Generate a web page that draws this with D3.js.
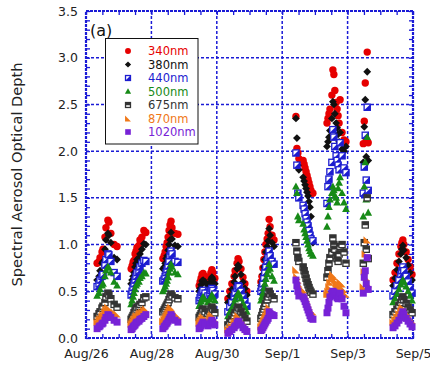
<!DOCTYPE html>
<html>
<head>
<meta charset="utf-8">
<script src="https://cdn.jsdelivr.net/npm/d3@7"></script>
<style>
  html, body { margin: 0; padding: 0; background: #fff; }
  svg { display: block; font-family: "DejaVu Sans", Verdana, sans-serif; }
</style>
</head>
<body>
<div id="chart"></div>
<script>
// x axis: days since Aug/26 00:00
const tickDays = [0, 2, 4, 6, 8, 10];
const tickLabels = ["Aug/26", "Aug/28", "Aug/30", "Sep/1", "Sep/3", "Sep/5"];
const yTicks = [0, 0.5, 1.0, 1.5, 2.0, 2.5, 3.0, 3.5];

// fraction of the day for each measurement, one row per day (Aug 26 .. Sep 4)
const times = [
  [0.34, 0.40, 0.43, 0.49, 0.52, 0.58, 0.61, 0.67, 0.70, 0.76, 0.86, 0.95],
  [0.38, 0.41, 0.44, 0.47, 0.50, 0.53, 0.56, 0.62, 0.65, 0.71, 0.77, 0.83],
  [0.35, 0.39, 0.42, 0.45, 0.48, 0.51, 0.54, 0.57, 0.60, 0.63, 0.72, 0.81],
  [0.46, 0.49, 0.52, 0.55, 0.58, 0.64, 0.73, 0.79, 0.82, 0.85, 0.88, 0.94],
  [0.34, 0.40, 0.46, 0.53, 0.56, 0.62, 0.65, 0.68, 0.74, 0.80, 0.86, 0.92],
  [0.35, 0.38, 0.41, 0.44, 0.47, 0.50, 0.54, 0.57, 0.60, 0.63, 0.69, 0.75],
  [0.42, 0.45, 0.48, 0.51, 0.64, 0.67, 0.70, 0.73, 0.76, 0.79, 0.82, 0.85, 0.88, 0.94],
  [0.37, 0.40, 0.43, 0.46, 0.52, 0.55, 0.58, 0.61, 0.65, 0.68, 0.71, 0.74, 0.77, 0.83, 0.89, 0.95],
  [0.48, 0.51, 0.54, 0.57, 0.60, 0.63],
  [0.39, 0.45, 0.51, 0.57, 0.63, 0.66, 0.69, 0.72, 0.79, 0.85, 0.91, 0.97]
];

const aod340 = [
  [0.80, 0.82, 0.86, 0.92, 0.95, 1.08, 1.18, 1.26, 1.24, 1.12, 1.00, 0.98],
  [0.74, 0.77, 0.81, 0.83, 0.90, 0.93, 0.97, 0.99, 1.05, 1.08, 1.15, 1.13],
  [0.85, 0.88, 0.92, 0.98, 1.02, 1.08, 1.15, 1.21, 1.25, 1.18, 1.12, 1.11],
  [0.56, 0.60, 0.64, 0.68, 0.69, 0.66, 0.62, 0.66, 0.70, 0.73, 0.70, 0.64],
  [0.42, 0.50, 0.58, 0.66, 0.72, 0.80, 0.85, 0.82, 0.74, 0.65, 0.58, 0.50],
  [0.60, 0.66, 0.75, 0.84, 0.92, 1.00, 1.06, 1.12, 1.27, 1.19, 1.10, 1.05],
  [2.37, 2.03, 1.98, 1.92, 1.90, 1.86, 1.82, 1.78, 1.74, 1.70, 1.66, 1.62, 1.58, 1.55],
  [2.30, 2.35, 2.40, 2.45, 2.60, 2.87, 2.82, 2.65, 2.52, 2.45, 2.38, 2.30, 2.55, 2.20, 2.12, 2.10],
  [2.08, 2.32, 2.73, 2.12, 3.06, 2.09],
  [0.62, 0.70, 0.80, 0.90, 0.98, 1.02, 1.05, 1.00, 0.92, 0.84, 0.76, 0.68]
];
const aod380 = [
  [0.62, 0.66, 0.72, 0.80, 0.82, 0.95, 1.05, 1.12, 1.10, 1.02, 0.86, 0.84],
  [0.58, 0.62, 0.66, 0.70, 0.76, 0.80, 0.84, 0.86, 0.90, 0.95, 1.01, 1.00],
  [0.74, 0.76, 0.80, 0.85, 0.88, 0.94, 1.00, 1.05, 1.13, 1.06, 0.99, 0.98],
  [0.50, 0.53, 0.57, 0.61, 0.62, 0.60, 0.56, 0.59, 0.63, 0.65, 0.63, 0.58],
  [0.38, 0.45, 0.52, 0.60, 0.66, 0.74, 0.78, 0.76, 0.68, 0.60, 0.53, 0.46],
  [0.56, 0.60, 0.68, 0.76, 0.84, 0.92, 0.98, 1.04, 1.17, 1.10, 1.02, 0.98],
  [2.35, 2.14, 1.85, 1.80, 1.72, 1.68, 1.64, 1.60, 1.56, 1.52, 1.46, 1.40, 1.30, 1.02],
  [2.05, 2.10, 2.15, 2.22, 2.35, 2.53, 2.50, 2.40, 2.30, 2.25, 2.18, 2.10, 2.20, 2.02, 2.00, 2.05],
  [1.88, 2.26, 2.55, 1.94, 2.85, 1.90],
  [0.56, 0.64, 0.73, 0.82, 0.90, 0.95, 0.99, 0.94, 0.86, 0.78, 0.70, 0.62]
];
const aod440 = [
  [0.55, 0.58, 0.62, 0.66, 0.68, 0.78, 0.84, 0.90, 0.89, 0.82, 0.70, 0.66],
  [0.46, 0.50, 0.54, 0.58, 0.62, 0.66, 0.70, 0.72, 0.76, 0.80, 0.83, 0.82],
  [0.61, 0.63, 0.66, 0.70, 0.73, 0.77, 0.82, 0.88, 0.93, 0.90, 0.82, 0.81],
  [0.40, 0.43, 0.46, 0.49, 0.51, 0.48, 0.45, 0.48, 0.51, 0.53, 0.51, 0.47],
  [0.28, 0.33, 0.38, 0.44, 0.48, 0.53, 0.56, 0.55, 0.50, 0.44, 0.39, 0.34],
  [0.50, 0.54, 0.58, 0.64, 0.70, 0.76, 0.82, 0.86, 0.93, 0.88, 0.82, 0.79],
  [1.98, 1.85, 1.55, 1.50, 1.42, 1.38, 1.33, 1.28, 1.24, 1.20, 1.15, 1.10, 1.06, 1.04],
  [1.44, 1.62, 1.70, 1.78, 1.88, 2.23, 2.15, 2.05, 1.95, 1.90, 1.85, 1.80, 2.09, 1.95, 1.82, 1.77],
  [1.55, 1.83, 2.17, 1.69, 2.47, 1.58],
  [0.45, 0.50, 0.56, 0.62, 0.68, 0.72, 0.76, 0.72, 0.66, 0.60, 0.54, 0.48]
];
const aod500 = [
  [0.45, 0.48, 0.52, 0.56, 0.58, 0.66, 0.72, 0.76, 0.75, 0.70, 0.60, 0.56],
  [0.36, 0.40, 0.44, 0.48, 0.52, 0.56, 0.58, 0.60, 0.64, 0.66, 0.70, 0.69],
  [0.50, 0.52, 0.55, 0.58, 0.61, 0.65, 0.70, 0.74, 0.79, 0.76, 0.70, 0.68],
  [0.34, 0.36, 0.39, 0.42, 0.44, 0.41, 0.38, 0.41, 0.44, 0.46, 0.44, 0.40],
  [0.23, 0.28, 0.32, 0.37, 0.41, 0.45, 0.48, 0.47, 0.42, 0.37, 0.33, 0.28],
  [0.40, 0.44, 0.48, 0.53, 0.58, 0.63, 0.68, 0.72, 0.79, 0.74, 0.66, 0.61],
  [1.62, 1.55, 1.30, 1.26, 1.22, 1.16, 1.12, 1.08, 1.04, 1.00, 0.96, 0.93, 0.90, 0.88],
  [1.19, 1.30, 1.40, 1.48, 1.55, 1.62, 1.58, 1.52, 1.50, 1.45, 1.60, 1.66, 1.72, 1.55, 1.45, 1.38],
  [1.30, 1.62, 1.88, 1.48, 2.15, 1.34],
  [0.38, 0.42, 0.47, 0.52, 0.57, 0.60, 0.62, 0.60, 0.55, 0.50, 0.45, 0.40]
];
const aod675 = [
  [0.23, 0.26, 0.28, 0.32, 0.34, 0.38, 0.44, 0.48, 0.46, 0.42, 0.36, 0.33],
  [0.20, 0.22, 0.24, 0.27, 0.29, 0.31, 0.33, 0.34, 0.36, 0.38, 0.43, 0.44],
  [0.28, 0.30, 0.32, 0.34, 0.36, 0.38, 0.41, 0.44, 0.47, 0.45, 0.43, 0.42],
  [0.22, 0.24, 0.26, 0.29, 0.31, 0.28, 0.26, 0.28, 0.31, 0.33, 0.31, 0.27],
  [0.14, 0.17, 0.20, 0.24, 0.27, 0.30, 0.33, 0.32, 0.28, 0.24, 0.21, 0.18],
  [0.21, 0.24, 0.28, 0.31, 0.34, 0.37, 0.41, 0.44, 0.50, 0.47, 0.44, 0.42],
  [1.02, 0.93, 0.86, 0.82, 0.76, 0.72, 0.68, 0.64, 0.60, 0.57, 0.54, 0.51, 0.49, 0.47],
  [0.65, 0.72, 0.80, 0.86, 0.92, 1.07, 1.00, 0.95, 0.88, 0.85, 0.82, 0.90, 0.98, 1.00, 0.92, 0.80],
  [0.80, 1.02, 1.21, 0.95, 1.50, 0.85],
  [0.25, 0.28, 0.31, 0.35, 0.38, 0.41, 0.44, 0.41, 0.37, 0.33, 0.30, 0.27]
];
const aod870 = [
  [0.17, 0.19, 0.21, 0.23, 0.25, 0.28, 0.31, 0.33, 0.32, 0.30, 0.28, 0.26],
  [0.15, 0.16, 0.18, 0.20, 0.21, 0.23, 0.24, 0.25, 0.27, 0.28, 0.30, 0.31],
  [0.18, 0.20, 0.21, 0.23, 0.25, 0.27, 0.29, 0.31, 0.33, 0.31, 0.26, 0.24],
  [0.16, 0.18, 0.19, 0.21, 0.23, 0.21, 0.19, 0.21, 0.23, 0.25, 0.23, 0.20],
  [0.09, 0.11, 0.13, 0.16, 0.18, 0.21, 0.24, 0.23, 0.20, 0.17, 0.14, 0.12],
  [0.12, 0.14, 0.16, 0.19, 0.21, 0.24, 0.27, 0.29, 0.33, 0.31, 0.29, 0.28],
  [0.73, 0.66, 0.62, 0.58, 0.52, 0.49, 0.46, 0.43, 0.40, 0.37, 0.34, 0.31, 0.29, 0.28],
  [0.47, 0.50, 0.55, 0.60, 0.64, 0.68, 0.66, 0.62, 0.58, 0.55, 0.52, 0.56, 0.60, 0.58, 0.52, 0.47],
  [0.55, 0.71, 0.90, 0.65, 1.05, 0.58],
  [0.17, 0.20, 0.23, 0.26, 0.29, 0.31, 0.33, 0.31, 0.28, 0.25, 0.22, 0.19]
];
const aod1020 = [
  [0.10, 0.12, 0.13, 0.15, 0.16, 0.19, 0.22, 0.25, 0.24, 0.22, 0.19, 0.17],
  [0.09, 0.10, 0.12, 0.13, 0.14, 0.16, 0.17, 0.18, 0.20, 0.21, 0.23, 0.25],
  [0.10, 0.12, 0.13, 0.15, 0.16, 0.18, 0.20, 0.22, 0.25, 0.23, 0.19, 0.17],
  [0.10, 0.11, 0.13, 0.15, 0.17, 0.15, 0.13, 0.15, 0.17, 0.19, 0.17, 0.14],
  [0.05, 0.07, 0.09, 0.11, 0.13, 0.16, 0.18, 0.17, 0.14, 0.11, 0.09, 0.07],
  [0.08, 0.09, 0.11, 0.13, 0.15, 0.17, 0.19, 0.21, 0.28, 0.26, 0.25, 0.24],
  [0.62, 0.56, 0.50, 0.45, 0.44, 0.42, 0.39, 0.36, 0.33, 0.30, 0.27, 0.24, 0.21, 0.20],
  [0.27, 0.32, 0.38, 0.44, 0.48, 0.50, 0.49, 0.47, 0.45, 0.43, 0.42, 0.45, 0.48, 0.42, 0.34, 0.27],
  [0.48, 0.65, 0.72, 0.58, 0.86, 0.52],
  [0.11, 0.13, 0.16, 0.19, 0.22, 0.25, 0.28, 0.25, 0.21, 0.18, 0.15, 0.12]
];

const seriesNames = ["340nm", "380nm", "440nm", "500nm", "675nm", "870nm", "1020nm"];
const seriesValues = [aod340, aod380, aod440, aod500, aod675, aod870, aod1020];
const seriesColors = ["#e60000", "#111111", "#1c1cd0", "#178a17", "#333333", "#f07818", "#7722d6"];
const seriesShapes = ["circle", "diamond", "halfsq", "triangle", "topsq", "rtri", "square"];

const width = 430, height = 367;
const plot = { left: 86, right: 413, top: 11, bottom: 338 };
const gridBlue = "#1a1ad6";

const svg = d3.select("#chart").append("svg")
  .attr("width", width)
  .attr("height", height);

const x = d3.scaleLinear().domain([0, 10]).range([plot.left, plot.right]);
const y = d3.scaleLinear().domain([0, 3.5]).range([plot.bottom, plot.top]);

// grid
const grid = svg.append("g")
  .attr("stroke", gridBlue)
  .attr("stroke-width", 1.5)
  .attr("stroke-dasharray", "3,2");
grid.selectAll(".gx").data(tickDays.slice(1, -1)).join("line")
  .attr("x1", d => x(d)).attr("x2", d => x(d))
  .attr("y1", plot.top).attr("y2", plot.bottom);
grid.selectAll(".gy").data(yTicks.slice(1, -1)).join("line")
  .attr("x1", plot.left).attr("x2", plot.right)
  .attr("y1", d => y(d)).attr("y2", d => y(d));

// minor ticks, all pointing inward
const yMinor = d3.range(0, 36).map(i => i / 10);
const xMinor = d3.range(0, 21).map(i => i / 2);
function styleTicks(g) {
  g.select(".domain").remove();
  g.selectAll("line").attr("stroke", gridBlue).attr("stroke-width", 1.3);
  g.selectAll("text").remove();
}
svg.append("g").attr("transform", `translate(${plot.left},0)`)
  .call(d3.axisLeft(y).tickValues(yMinor).tickSize(-4)).call(styleTicks);
svg.append("g").attr("transform", `translate(${plot.right},0)`)
  .call(d3.axisRight(y).tickValues(yMinor).tickSize(-4)).call(styleTicks);
svg.append("g").attr("transform", `translate(0,${plot.bottom})`)
  .call(d3.axisBottom(x).tickValues(xMinor).tickSize(-4)).call(styleTicks);
svg.append("g").attr("transform", `translate(0,${plot.top})`)
  .call(d3.axisTop(x).tickValues(xMinor).tickSize(-4)).call(styleTicks);

// tick labels
const yAxis = svg.append("g").attr("transform", `translate(${plot.left},0)`)
  .call(d3.axisLeft(y).tickValues(yTicks).tickSize(0).tickPadding(8).tickFormat(d3.format(".1f")));
const xAxis = svg.append("g").attr("transform", `translate(0,${plot.bottom})`)
  .call(d3.axisBottom(x).tickValues(tickDays).tickSize(0).tickPadding(11)
    .tickFormat((d, i) => tickLabels[i]));
[yAxis, xAxis].forEach(g => {
  g.select(".domain").remove();
  g.selectAll("text").attr("font-size", 12.5).attr("fill", "#222")
    .attr("font-family", "DejaVu Sans, Verdana, sans-serif");
});

// frame
svg.append("rect")
  .attr("x", plot.left).attr("y", plot.top)
  .attr("width", plot.right - plot.left).attr("height", plot.bottom - plot.top)
  .attr("fill", "none")
  .attr("stroke", gridBlue)
  .attr("stroke-width", 2.2)
  .attr("stroke-dasharray", "3,1");

// marker drawing
function drawMarker(g, shape, color, s) {
  if (shape === "circle") {
    g.append("circle").attr("r", 3.7 * s).attr("fill", color);
  } else if (shape === "diamond") {
    const r = 3.9 * s;
    g.append("path").attr("d", `M0,${-r}L${r},0L0,${r}L${-r},0Z`).attr("fill", color);
  } else if (shape === "halfsq") {
    const h = 3.1 * s;
    g.append("rect").attr("x", -h).attr("y", -h).attr("width", 2 * h).attr("height", 2 * h)
      .attr("fill", "#fff").attr("stroke", color).attr("stroke-width", 1.3);
    g.append("path").attr("d", `M${h},${-h}L${h},${h}L${-h},${h}Z`).attr("fill", color);
  } else if (shape === "triangle") {
    const r = 4.2 * s;
    g.append("path").attr("d", `M0,${-r}L${r * 0.92},${r * 0.68}L${-r * 0.92},${r * 0.68}Z`).attr("fill", color);
  } else if (shape === "topsq") {
    const h = 3.1 * s;
    g.append("rect").attr("x", -h).attr("y", -h).attr("width", 2 * h).attr("height", 2 * h)
      .attr("fill", "#fff").attr("stroke", color).attr("stroke-width", 1.3);
    g.append("rect").attr("x", -h).attr("y", -h).attr("width", 2 * h).attr("height", h * 1.1)
      .attr("fill", color);
  } else if (shape === "rtri") {
    const h = 3.7 * s;
    g.append("path").attr("d", `M${-h},${-h}L${-h},${h}L${h},${h}Z`).attr("fill", color);
  } else {
    const h = 3.5 * s;
    g.append("rect").attr("x", -h).attr("y", -h).attr("width", 2 * h).attr("height", 2 * h)
      .attr("fill", color);
  }
}

// points
seriesValues.forEach((series, k) => {
  const pts = [];
  series.forEach((row, d) => row.forEach((v, i) => pts.push({ t: d + times[d][i], v })));
  const layer = svg.append("g");
  layer.selectAll("g").data(pts).join("g")
    .attr("transform", p => `translate(${x(p.t)},${y(p.v)})`)
    .each(function () { drawMarker(d3.select(this), seriesShapes[k], seriesColors[k], 1); });
});

// legend
const legend = svg.append("g");
legend.append("rect")
  .attr("x", 105.5).attr("y", 38.5).attr("width", 92.5).attr("height", 105.5)
  .attr("fill", "#fff").attr("stroke", "#111").attr("stroke-width", 1);
seriesNames.forEach((name, k) => {
  const cy = 51 + k * 13.5;
  const g = legend.append("g").attr("transform", `translate(128,${cy})`);
  drawMarker(g, seriesShapes[k], seriesColors[k], 0.8);
  legend.append("text")
    .attr("x", 148).attr("y", cy).attr("dy", "0.36em")
    .attr("font-size", 11.5)
    .attr("fill", seriesColors[k] === "#111111" ? "#111" : seriesColors[k])
    .text(name);
});

// panel label
svg.append("text")
  .attr("x", 90).attr("y", 36)
  .attr("font-size", 16).attr("fill", "#111")
  .text("(a)");

// y axis title
svg.append("text")
  .attr("transform", `translate(22,${(plot.top + plot.bottom) / 2 + 0})rotate(-90)`)
  .attr("text-anchor", "middle")
  .attr("font-size", 14.6).attr("fill", "#222")
  .text("Spectral Aerosol Optical Depth");
</script>
</body>
</html>
